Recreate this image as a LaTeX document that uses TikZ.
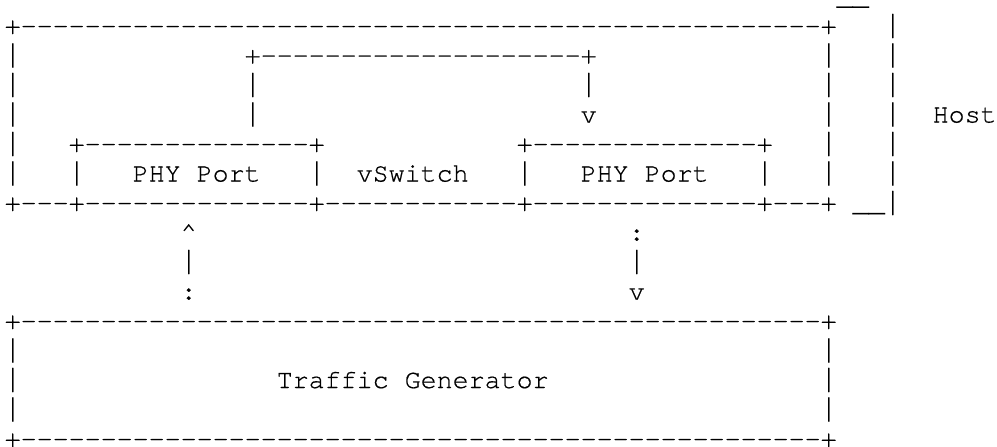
\documentclass[tikz,border=0pt]{standalone}
\usepackage{fontspec}
\usepackage{graphicx}
\setmonofont{TeX Gyre Cursor}[Ligatures=CommonOff, FakeBold=0.5]
\newlength{\chw}
\setlength{\chw}{6pt}
\newcommand{\sps}[1]{\kern#1\chw}
\newcommand{\vb}{\scalebox{1}[1.25]{|}}
\tikzset{
  asciirow/.style={anchor=base west, inner sep=0pt, outer sep=0pt,
    font=\ttfamily\fontsize{10pt}{11pt}\selectfont\frenchspacing, text=black}
}
\begin{document}
\begin{tikzpicture}[x=0.375pt, y=-0.375pt]
\useasboundingbox (0,0) rectangle (997,446);
\node[asciirow, text height=0pt] (r0)  at (4.7, 4.5)   {\sps{52}\string_\string_};
\node[asciirow] (r1)  at (4.7, 34.0)  {+--------------------------------------------------+\sps{3}\vb};
\node[asciirow] (r2)  at (4.7, 63.5)  {\vb\sps{14}+--------------------+\sps{14}\vb\sps{3}\vb};
\node[asciirow] (r3)  at (4.7, 93.0)  {\vb\sps{14}\vb\sps{20}\vb\sps{14}\vb\sps{3}\vb};
\node[asciirow] (r4)  at (4.7, 122.5) {\vb\sps{14}\vb\sps{20}v\sps{14}\vb\sps{3}\vb\sps{2}Host};
\node[asciirow] (r5)  at (4.7, 152.0) {\vb\sps{3}+--------------+\sps{12}+--------------+\sps{3}\vb\sps{3}\vb};
\node[asciirow] (r6)  at (4.7, 181.5) {\vb\sps{3}\vb\sps{3}PHY\sps{1}Port\sps{3}\vb\sps{2}vSwitch\sps{3}\vb\sps{3}PHY\sps{1}Port\sps{3}\vb\sps{3}\vb\sps{3}\vb};
\node[asciirow] (r7)  at (4.7, 211.0) {+---+--------------+------------+--------------+---+\sps{1}\string_\string_\vb};
\node[asciirow] (r8)  at (4.7, 240.5) {\sps{11}\string^\sps{27}:};
\node[asciirow] (r9)  at (4.7, 270.0) {\sps{11}\vb\sps{27}\vb};
\node[asciirow] (r10) at (4.7, 299.5) {\sps{11}:\sps{27}v};
\node[asciirow] (r11) at (4.7, 329.0) {+--------------------------------------------------+};
\node[asciirow] (r12) at (4.7, 358.5) {\vb\sps{50}\vb};
\node[asciirow] (r13) at (4.7, 388.0) {\vb\sps{16}Traffic\sps{1}Generator\sps{17}\vb};
\node[asciirow] (r14) at (4.7, 417.5) {\vb\sps{50}\vb};
\node[asciirow, text depth=0pt] (r15) at (4.7, 447.0) {+--------------------------------------------------+};
\end{tikzpicture}
\end{document}
